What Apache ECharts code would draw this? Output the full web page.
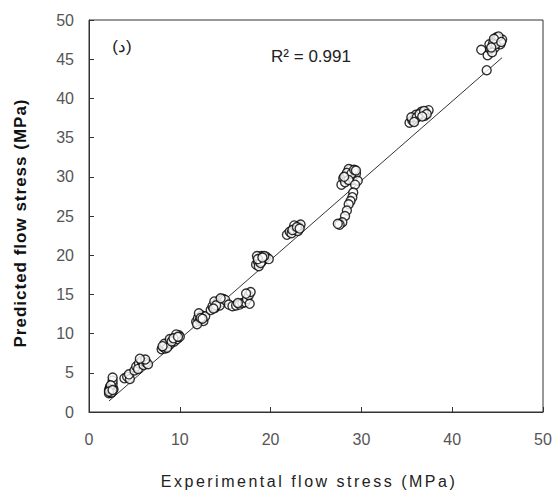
<!DOCTYPE html>
<html><head><meta charset="utf-8">
<script src="https://cdn.jsdelivr.net/npm/echarts@6/dist/echarts.min.js"></script>
<style>html,body{margin:0;padding:0;background:#fff}#c{width:555px;height:490px}</style>
</head><body><div id="c"></div>
<script>
const xTicks = [0, 10, 20, 30, 40, 50];
const yTicks = [0, 5, 10, 15, 20, 25, 30, 35, 40, 45, 50];
const xTitle = 'Experimental flow stress (MPa)';
const yTitle = 'Predicted flow stress (MPa)';
const panelLabel = '(د)';
const r2Label = 'R² = 0.991';
const expX = [
 2.2,2.3,2.2,2.4,2.5,2.4,2.6,2.5,2.3,2.7,2.6,2.6,2.6,2.3,2.5,2.4,2.2,2.6,
 3.9,4.2,4.5,4.4,5.0,5.2,5.5,5.8,5.4,6.0,6.3,6.5,6.2,5.6,
 8.0,8.2,8.4,8.5,8.7,8.8,9.0,9.2,9.4,9.5,9.7,9.9,10.0,8.3,8.9,9.6,8.6,9.1,9.3,8.1,9.8,
 11.8,12.0,12.2,12.4,12.1,12.6,12.8,11.9,12.3,12.5,
 13.4,13.6,13.9,14.1,14.3,14.6,14.8,13.8,14.4,15.0,14.0,14.5,13.7,
 15.4,15.8,16.2,16.6,16.9,17.2,17.4,17.6,17.8,17.3,16.4,17.7,
 18.4,18.6,18.8,19.0,19.2,18.7,19.5,18.5,19.0,19.8,18.9,19.3,18.6,19.1,
 21.8,22.1,22.3,22.5,22.8,23.1,23.3,22.6,23.0,22.4,22.9,23.2,
 27.8,28.0,28.3,28.5,28.8,29.1,29.4,28.7,29.0,28.2,29.6,28.6,28.4,28.9,29.2,28.6,29.4,28.1,
 29.3,29.1,29.0,28.8,28.6,28.4,28.2,27.9,27.6,27.4,
 35.3,35.6,35.9,36.2,36.5,36.8,37.1,37.4,36.0,36.6,37.0,35.5,36.1,36.4,36.9,37.2,36.7,35.8,
 43.8,43.2,43.9,44.2,44.4,44.6,44.8,45.0,45.2,44.7,44.4,45.3,44.1,45.5,44.9,44.5,44.8,45.1,44.6,45.4,44.3
];
const predY = [
 2.4,2.6,2.8,2.5,2.7,3.0,3.1,3.3,3.2,2.9,3.6,4.0,4.4,2.9,2.5,3.4,2.6,2.8,
 4.3,4.5,4.2,4.8,5.3,5.8,6.2,6.5,5.5,6.0,6.3,6.1,6.7,6.8,
 8.0,8.3,8.1,8.6,8.4,8.9,8.7,9.1,9.0,9.5,9.3,9.8,9.6,8.7,9.3,9.9,8.2,9.0,9.4,8.4,9.6,
 11.5,12.0,11.7,12.3,12.6,11.6,12.2,11.2,12.0,11.9,
 13.0,13.5,13.3,13.9,14.2,14.0,14.4,14.1,13.6,14.3,13.6,14.5,13.2,
 13.7,13.5,13.6,13.7,13.9,14.0,14.4,14.9,15.3,15.1,13.9,13.8,
 18.8,19.2,19.6,19.9,19.5,18.6,19.8,19.9,19.2,19.5,19.0,19.9,19.5,19.7,
 22.6,23.0,22.8,23.3,23.5,23.7,23.9,23.8,23.1,23.2,23.6,23.4,
 29.0,29.8,30.2,30.6,30.9,30.7,30.4,30.0,29.6,29.3,29.5,31.0,30.5,30.4,30.9,29.6,30.8,30.0,
 29.0,28.0,27.4,26.9,26.5,25.7,25.0,24.2,23.9,24.0,
 36.9,37.2,37.4,37.7,37.9,38.1,38.3,38.5,37.9,38.3,37.8,37.6,37.6,38.0,38.4,38.0,37.7,37.0,
 43.6,46.2,45.5,46.3,46.8,47.2,47.5,47.6,47.3,46.5,45.9,46.9,46.9,47.5,47.8,47.0,46.9,47.9,47.6,47.2,46.5
];
const fitX = [2.2, 45.5];
const fitY = [1.4, 45.2];
const pts = expX.map((x, i) => [x, predY[i]]);
const fitPts = fitX.map((x, i) => [x, fitY[i]]);
const FONT = '"Liberation Sans", Arial, sans-serif';
const chart = echarts.init(document.getElementById('c'), null, {renderer: 'svg'});
chart.setOption({
  animation: false,
  backgroundColor: '#fff',
  grid: {left: 89, right: 12, top: 20, bottom: 78, show: true, borderColor: '#333', borderWidth: 1},
  xAxis: {
    type: 'value', min: xTicks[0], max: xTicks[xTicks.length - 1], interval: 10,
    axisLine: {lineStyle: {color: '#333', width: 1}},
    axisTick: {inside: true, length: 5, lineStyle: {color: '#333'}},
    splitLine: {show: false},
    axisLabel: {color: '#555', fontFamily: FONT, fontSize: 16, margin: 19}
  },
  yAxis: {
    type: 'value', min: yTicks[0], max: yTicks[yTicks.length - 1], interval: 5,
    axisLine: {lineStyle: {color: '#333', width: 1}},
    axisTick: {inside: true, length: 5, lineStyle: {color: '#333'}},
    splitLine: {show: false},
    axisLabel: {color: '#555', fontFamily: FONT, fontSize: 16, margin: 15}
  },
  series: [
    {type: 'line', data: fitPts, symbol: 'none', lineStyle: {color: '#333', width: 1}, z: 1},
    {type: 'scatter', data: pts, symbol: 'circle', symbolSize: 9,
     itemStyle: {color: '#fff', borderColor: '#000', borderWidth: 1.4}, z: 2}
  ],
  graphic: [
    {type: 'text', x: 122, y: 46, style: {text: panelLabel, font: '17px ' + FONT, fill: '#222', textAlign: 'center', textVerticalAlign: 'middle'}},
    {type: 'text', x: 311, y: 56, style: {text: r2Label, font: '17px ' + FONT, fill: '#222', textAlign: 'center', textVerticalAlign: 'middle'}},
    {type: 'text', x: 309, y: 481, style: {text: xTitle, font: '16px ' + FONT, fill: '#222', textAlign: 'center', textVerticalAlign: 'middle'}},
    {type: 'text', x: 20, y: 223, rotation: Math.PI / 2, style: {text: yTitle, font: 'bold 17px ' + FONT, fill: '#111', textAlign: 'center', textVerticalAlign: 'middle'}}
  ]
});
function spaceTitles() {
  document.querySelectorAll('#c text').forEach(t => {
    if (t.textContent === xTitle) t.style.letterSpacing = '2.5px';
    if (t.textContent === yTitle) t.style.letterSpacing = '1px';
  });
}
spaceTitles();
chart.on('finished', spaceTitles);
</script></body></html>
